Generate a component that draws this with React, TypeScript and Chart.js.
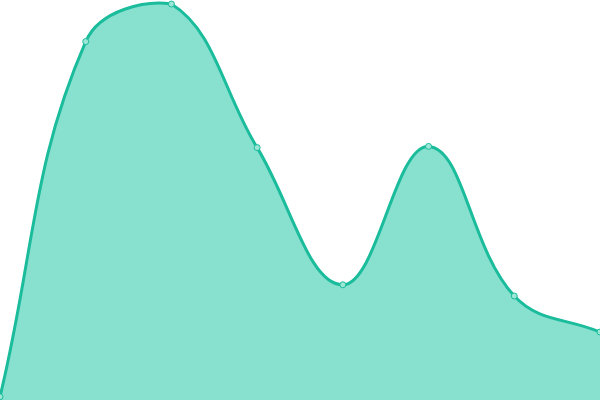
import React, { useEffect, useRef } from "react";
import { Chart, registerables } from "chart.js";

Chart.register(...registerables);

const categories = ["1", "2", "3", "4", "5", "6", "7", "8"];
const values = [0.8, 89.6, 99, 63.1, 28.8, 63.4, 26, 17];

export default function App() {
  const ref = useRef<HTMLCanvasElement>(null);
  useEffect(() => {
    document.body.style.margin = "0";
    const chart = new Chart(ref.current!, {
      type: "line",
      data: {
        labels: categories,
        datasets: [
          {
            data: values,
            borderColor: "#1abc9c",
            backgroundColor: "#88e0cf",
            pointBackgroundColor: "#9ce6d6",
            pointBorderColor: "#1abc9c",
            pointBorderWidth: 1,
            pointRadius: 3,
            borderWidth: 3,
            fill: true,
            tension: 0.4,
          },
        ],
      },
      options: {
        animation: false,
        responsive: false,
        plugins: { legend: { display: false }, tooltip: { enabled: false } },
        layout: { padding: 0, autoPadding: false },
        scales: {
          x: { display: false, offset: false },
          y: { display: false, min: 0, max: 100 },
        },
      },
    });
    return () => chart.destroy();
  }, []);
  return (
    <div style={{ width: 600, height: 400 }}>
      <canvas ref={ref} width={600} height={400} style={{ display: "block" }} />
    </div>
  );
}
